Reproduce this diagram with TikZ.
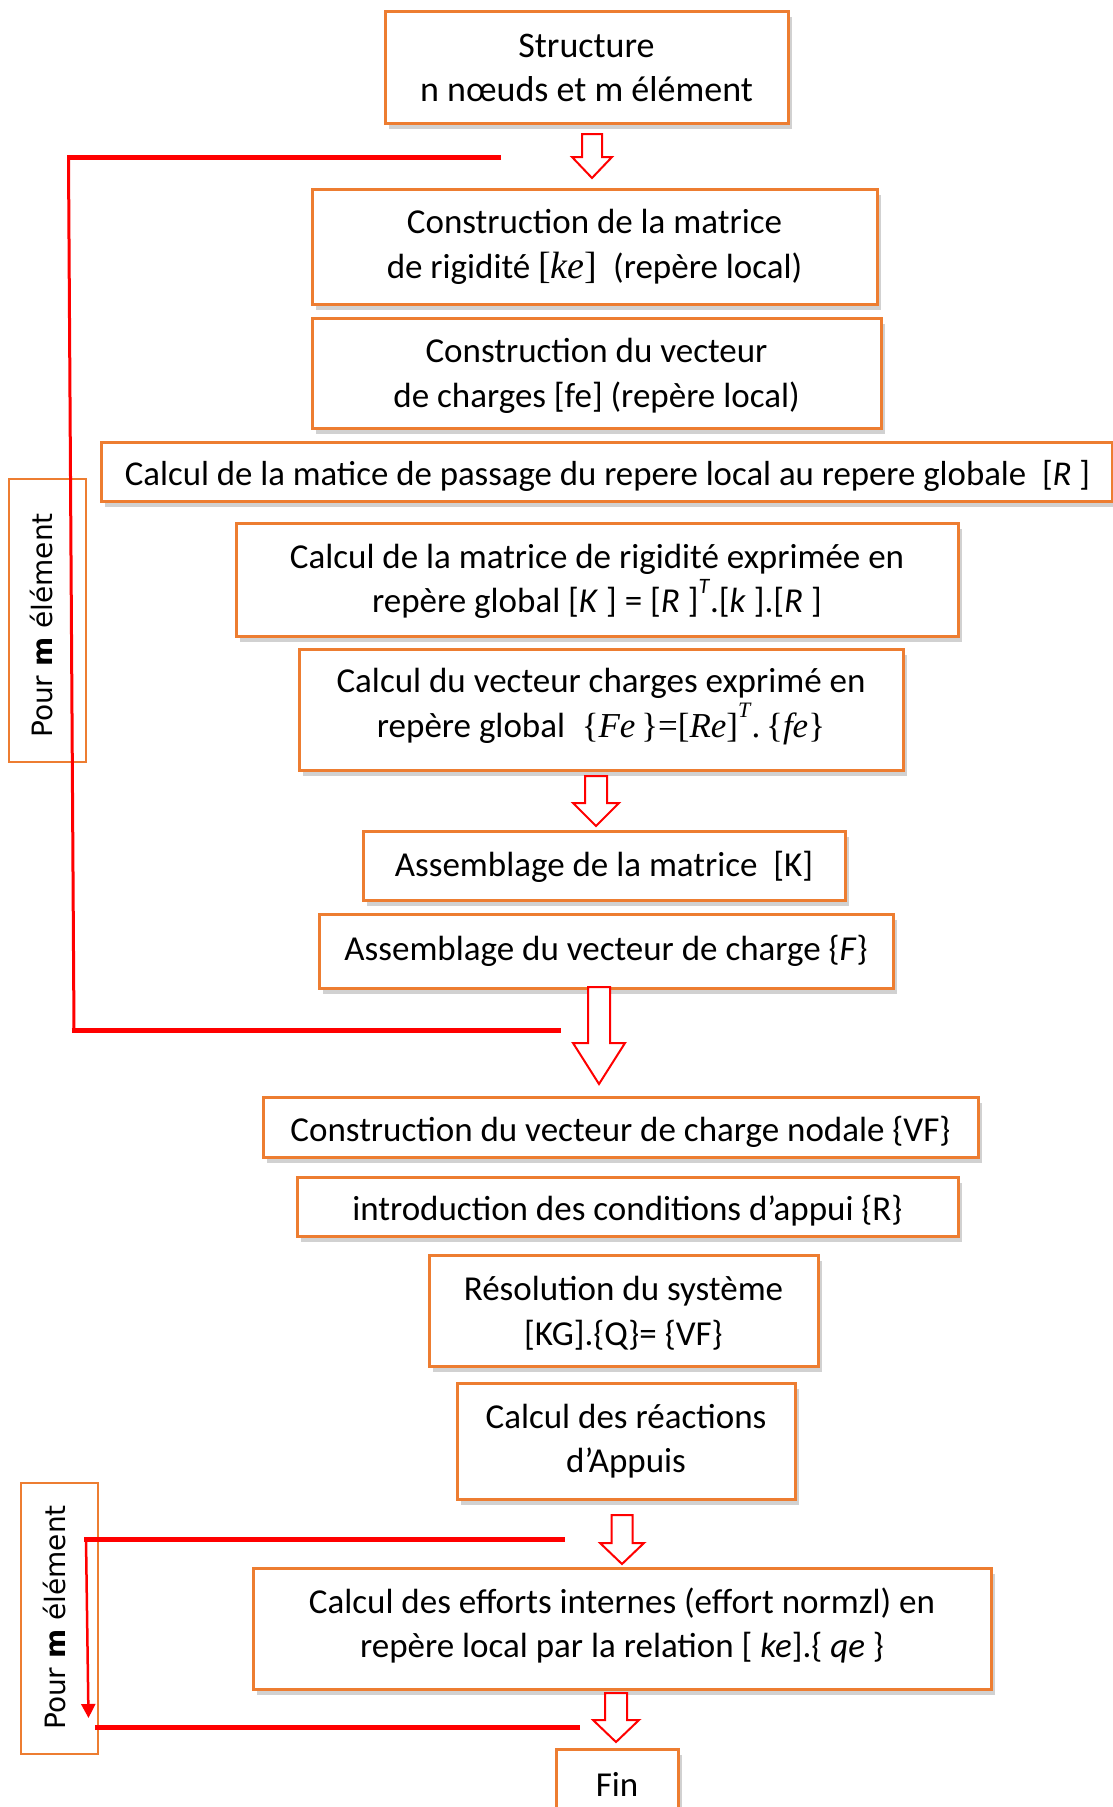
\documentclass[tikz,border=0pt]{standalone}
\usepackage{fontspec}
\setmainfont{Carlito}
\newfontfamily\tms{Liberation Serif}
\newfontfamily\pourfont{DejaVu Sans}
\usetikzlibrary{shadows,arrows.meta}
\definecolor{boxorange}{RGB}{237,125,49}
\definecolor{lred}{RGB}{255,0,0}
\newcommand\blkarrow[6]{% cx ytop ybot shaft head headlen
  \draw[blockarrow] ({#1-#4/2},#2) -- ({#1+#4/2},#2) -- ({#1+#4/2},{#3-#6}) -- ({#1+#5/2},{#3-#6}) -- (#1,#3) -- ({#1-#5/2},{#3-#6}) -- ({#1-#4/2},{#3-#6}) -- cycle;}
\newcommand\supT{\raisebox{0.55em}{\fontsize{22}{22}\selectfont\textit{T}}}
\tikzset{
  box/.style={draw=boxorange, line width=3pt, fill=white, inner sep=0pt,
    drop shadow={shadow xshift=4pt, shadow yshift=-6pt, fill=black!40, opacity=0.45}},
  btxt/.style={align=center, inner sep=0pt, font=\fontsize{35}{44.5}\selectfont},
  pourbox/.style={draw=boxorange, line width=2.5pt, inner sep=0pt},
  pourtext/.style={rotate=90, font=\pourfont\fontsize{28}{30}\selectfont, inner sep=0pt},
  redthick/.style={draw=lred, line width=5pt},
  redthin/.style={draw=lred, line width=3pt},
  blockarrow/.style={draw=lred, line width=2pt, fill=white, line join=miter},
}
\begin{document}
\begin{tikzpicture}[x=1pt,y=-1pt]
\useasboundingbox[fill=white] (0,0) rectangle (1113,1807);

% side "Pour m élément" boxes
\node[pourbox, minimum width=77pt, minimum height=283pt] (p1) at (47.5,620.5) {};
\node[pourtext] (p1t) at (42,625.5) {Pour \textbf{m} élément};
\node[pourbox, minimum width=77pt, minimum height=271pt] (p2) at (59.5,1618.5) {};
\node[pourtext] (p2t) at (55,1617.5) {Pour \textbf{m} élément};

% main boxes
\node[box, minimum width=403pt, minimum height=112pt] (st) at (586.5,67) {};
\node[btxt, font=\fontsize{36}{44}\selectfont] (stt) at (586.5,68) {Structure\\n nœuds et m élément};
\node[box, minimum width=565pt, minimum height=115pt] (b2) at (594.5,246.5) {};
\node[btxt] (b2t) at (594.5,246.8) {Construction de la matrice\\de rigidité {\tms\fontsize{38}{43}\selectfont[\textit{ke}]}\ \ (repère local)};
\node[box, minimum width=569pt, minimum height=110pt] (b3) at (596.5,373) {};
\node[btxt] (b3t) at (596.5,375.8) {Construction du vecteur\\de charges [fe] (repère local)};
\node[box, minimum width=1011pt, minimum height=59pt] (b4) at (606.5,471.5) {};
\node[btxt, font=\fontsize{34.8}{44}\selectfont] (b4t) at (607.5,476) {Calcul de la matice de passage du repere local au repere globale\ \ [\textit{R} ]};
\node[box, minimum width=722pt, minimum height=113pt] (b5) at (597,579.5) {};
\node[btxt] (b5t) at (597,581.5) {Calcul de la matrice de rigidité exprimée en\\repère global [\textit{K} ] = [\textit{R} ]\supT.[\textit{k} ].[\textit{R} ]};
\node[box, minimum width=604pt, minimum height=121pt] (b6) at (601,709.5) {};
\node[btxt] (b6t) at (601,706.5) {Calcul du vecteur charges exprimé en\\repère global {\tms\fontsize{35}{43}\selectfont\ \{\textit{Fe}\,\}=[\textit{Re}]\supT.\,\{\textit{fe}\}}};
\node[box, minimum width=482pt, minimum height=69pt] (b7) at (604,865.5) {};
\node[btxt] (b7t) at (604,866.5) {Assemblage de la matrice\ \ [K]};
\node[box, minimum width=574pt, minimum height=74pt] (b8) at (606,951) {};
\node[btxt] (b8t) at (606,950.5) {Assemblage du vecteur de charge \{\textit{F}\}};
\node[box, minimum width=715pt, minimum height=60pt] (b9) at (620.5,1127) {};
\node[btxt] (b9t) at (620.5,1131.5) {Construction du vecteur de charge nodale \{VF\}};
\node[box, minimum width=661pt, minimum height=59pt] (b10) at (627.5,1206.5) {};
\node[btxt] (b10t) at (627.5,1211) {introduction des conditions d’appui \{R\}};
\node[box, minimum width=389pt, minimum height=111pt] (b11) at (623.5,1310.5) {};
\node[btxt] (b11t) at (623.5,1313) {Résolution du système\\{}[KG].\{Q\}= \{VF\}};
\node[box, minimum width=338pt, minimum height=116pt] (b12) at (626,1441) {};
\node[btxt] (b12t) at (626,1441) {Calcul des réactions\\d’Appuis};
\node[box, minimum width=738pt, minimum height=121pt] (b13) at (622,1628.5) {};
\node[btxt] (b13t) at (622,1625.5) {Calcul des efforts internes (effort normzl) en\\repère local par la relation [ \textit{ke}].\{ \textit{qe} \}};
\node[box, minimum width=122pt, minimum height=63pt] (fin) at (617,1780.5) {};
\node[btxt] (fint) at (617,1784.5) {Fin};

% block arrows
\blkarrow{592}{134}{178}{20}{40}{21}
\blkarrow{596}{776}{826}{22}{46}{23}
\blkarrow{599}{987}{1084}{22}{52}{41}
\blkarrow{622}{1515}{1564}{21}{44}{21}
\blkarrow{616}{1693}{1742}{22}{46}{22}

% loop lines
\coordinate (l1a) at (501,157);
\coordinate (l1b) at (67,157);
\coordinate (l1c) at (68.5,160);
\coordinate (l1d) at (74,1030);
\coordinate (l1e) at (561,1030);
\draw[redthick] (l1a) -- (l1b);
\draw[redthin] (l1c) -- (l1d);
\draw[redthick] (71.5,1030) -- (l1e);

\coordinate (l2a) at (565,1539);
\coordinate (l2b) at (84,1539);
\coordinate (l2c) at (86,1539);
\coordinate (l2d) at (88.5,1718);
\draw[redthick] (l2a) -- (l2b);
\draw[draw=lred, line width=2.5pt, -{Triangle[length=14pt,width=14pt]}] (l2c) -- (l2d);
\coordinate (l3a) at (95,1727);
\coordinate (l3b) at (580,1727);
\draw[redthick] (l3a) -- (l3b);
\end{tikzpicture}
\end{document}
